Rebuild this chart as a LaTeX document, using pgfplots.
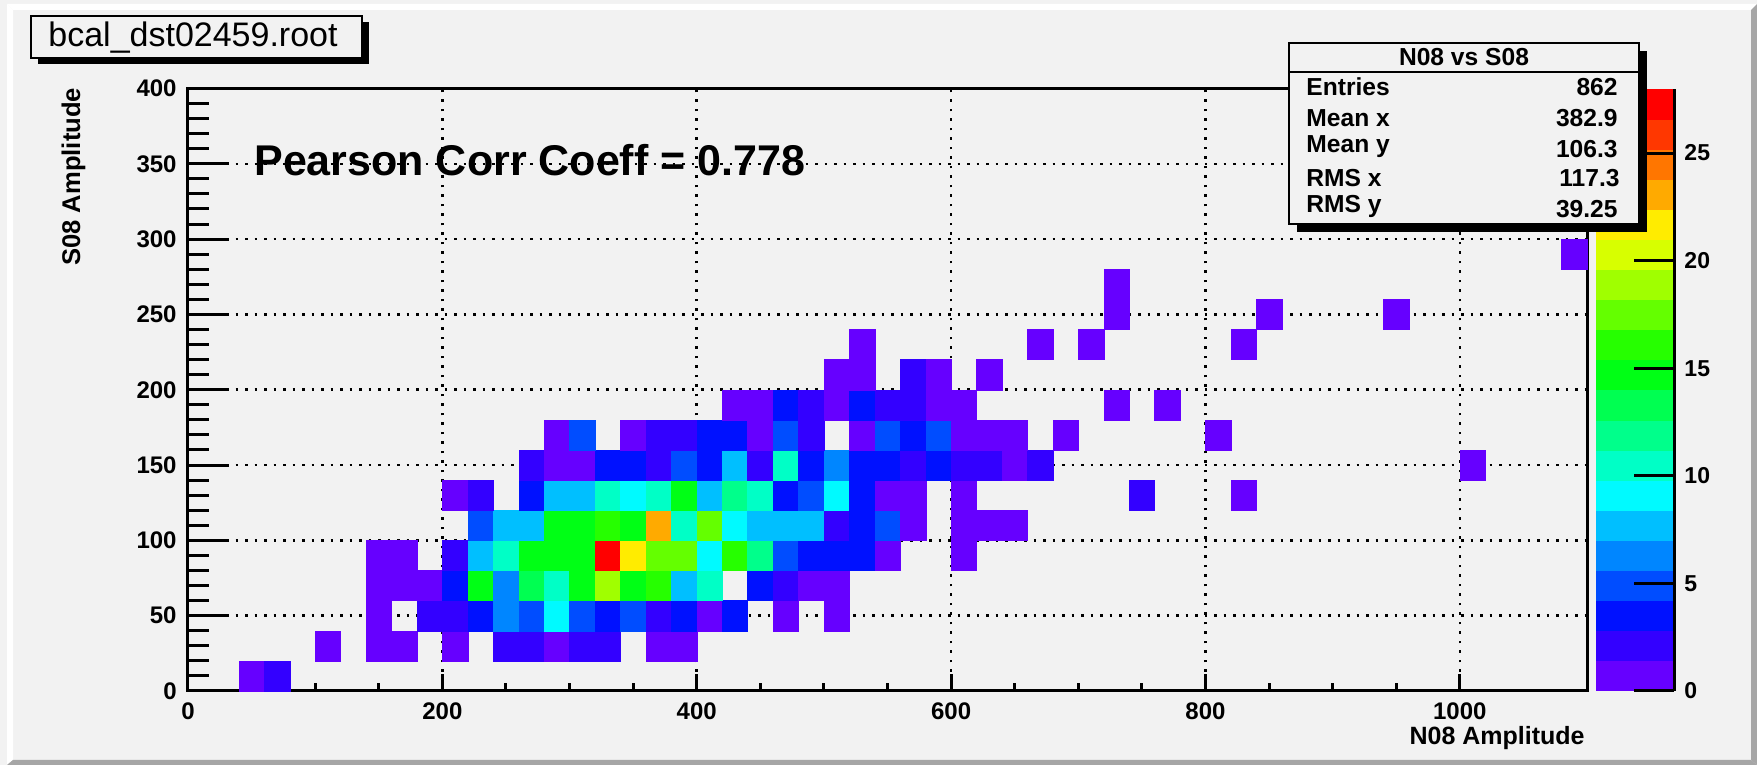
\documentclass[border=0pt]{standalone}
\usepackage{fontspec}
\setmainfont{Liberation Sans}
\usepackage{pgfplots}
\pgfplotsset{compat=1.18}
\usepackage{pgfplotstable}

\definecolor{bg}{RGB}{242,242,242}
\definecolor{bevel}{RGB}{166,166,166}

% x = bin centre, y = bin centre, c = entries
\pgfplotstableread{
x y c
50 10 1
70 10 2
110 30 1
150 30 1
170 30 1
210 30 1
250 30 2
270 30 2
290 30 1
310 30 2
330 30 2
370 30 1
390 30 1
150 50 1
190 50 2
210 50 2
230 50 3
250 50 6
270 50 5
290 50 9
310 50 5
330 50 3
350 50 5
370 50 2
390 50 3
410 50 1
430 50 3
470 50 1
510 50 1
150 70 1
170 70 1
190 70 1
210 70 3
230 70 15
250 70 6
270 70 13
290 70 11
310 70 15
330 70 19
350 70 15
370 70 16
390 70 8
410 70 11
450 70 3
470 70 2
490 70 1
510 70 1
150 90 1
170 90 1
210 90 2
230 90 8
250 90 11
270 90 15
290 90 15
310 90 15
330 90 27
350 90 22
370 90 17
390 90 17
410 90 9
430 90 16
450 90 12
470 90 5
490 90 3
510 90 3
530 90 3
550 90 1
610 90 1
230 110 5
250 110 8
270 110 8
290 110 15
310 110 15
330 110 16
350 110 15
370 110 23
390 110 11
410 110 17
430 110 9
450 110 8
470 110 8
490 110 8
510 110 2
530 110 3
550 110 5
570 110 1
610 110 1
630 110 1
650 110 1
210 130 1
230 130 2
270 130 3
290 130 8
310 130 8
330 130 11
350 130 9
370 130 11
390 130 15
410 130 8
430 130 12
450 130 11
470 130 3
490 130 5
510 130 9
530 130 3
550 130 1
570 130 1
610 130 1
750 130 2
830 130 1
270 150 2
290 150 1
310 150 1
330 150 3
350 150 3
370 150 2
390 150 5
410 150 3
430 150 8
450 150 2
470 150 11
490 150 3
510 150 6
530 150 3
550 150 3
570 150 2
590 150 3
610 150 2
630 150 2
650 150 1
670 150 2
1010 150 1
290 170 1
310 170 5
350 170 1
370 170 2
390 170 2
410 170 3
430 170 3
450 170 1
470 170 5
490 170 2
530 170 1
550 170 5
570 170 3
590 170 5
610 170 1
630 170 1
650 170 1
690 170 1
810 170 1
430 190 1
450 190 1
470 190 3
490 190 2
510 190 1
530 190 3
550 190 2
570 190 2
590 190 1
610 190 1
730 190 1
770 190 1
510 210 1
530 210 1
570 210 2
590 210 1
630 210 1
530 230 1
670 230 1
710 230 1
830 230 1
730 250 1
850 250 1
950 250 1
730 270 1
1090 290 1
}\cells

\begin{document}
\begin{tikzpicture}
\useasboundingbox (0,0) rectangle (878.5pt,382.5pt);
% ---------- canvas (pixel coordinates, y downwards) ----------
\begin{scope}[x=0.5pt,y=-0.5pt,shift={(0pt,382.5pt)}]
  \fill[bg] (0,0) rectangle (1757,765);
  \fill[white] (7,4) -- (1757,4) -- (1751,10) -- (13,10) -- cycle;
  \fill[white] (7,4) -- (13,10) -- (13,760) -- (7,765) -- cycle;
  \fill[bevel] (7,765) -- (13,760) -- (1751,760) -- (1757,765) -- cycle;
  \fill[bevel] (1757,4) -- (1757,765) -- (1751,760) -- (1751,10) -- cycle;
\end{scope}

\begin{axis}[
  at={(94pt,37pt)}, anchor=south west,
  scale only axis, width=699.5pt, height=301.25pt,
  xmin=0, xmax=1100, ymin=0, ymax=400,
  axis on top,
  axis line style={line width=1.5pt},
  xtick={0,200,...,1000}, ytick={0,50,...,400},
  minor x tick num=3, minor y tick num=4,
  tick align=inside, xtick pos=bottom, ytick pos=left,
  xtick style={line width=1.5pt, black, /pgfplots/major tick length=8.5pt, /pgfplots/minor tick length=4pt},
  ytick style={line width=1.5pt, black, /pgfplots/major tick length=20.5pt, /pgfplots/minor tick length=10.5pt},
  grid=major,
  major grid style={black, line width=1.25pt, dash pattern=on 1.25pt off 3.5pt},
  /pgf/number format/assume math mode=true,
  /pgf/number format/1000 sep={},
  scaled ticks=false,
  tick label style={font=\fontsize{12}{12}\selectfont\bfseries},
  xticklabel style={inner sep=0pt, anchor=north, yshift=-5.5pt},
  yticklabel style={inner sep=0pt, anchor=east, xshift=-5.5pt},
  colormap={rootpal}{
    rgb255=(102,0,255) rgb255=(51,0,255) rgb255=(0,17,255) rgb255=(0,77,255)
    rgb255=(0,134,255) rgb255=(0,191,255) rgb255=(0,250,255) rgb255=(0,255,198)
    rgb255=(0,255,139) rgb255=(0,255,81) rgb255=(0,255,21) rgb255=(38,255,0)
    rgb255=(100,255,0) rgb255=(160,255,0) rgb255=(215,255,0) rgb255=(255,236,0)
    rgb255=(255,170,0) rgb255=(255,118,0) rgb255=(255,55,0) rgb255=(255,0,0)},
  colormap access=piecewise constant,
  point meta min=0, point meta max=28,
  colorbar,
  colorbar style={
    at={(parent axis.south east)}, anchor=south west, xshift=-4pt,
    scale only axis, width=39pt, height=301.25pt,
    grid=none, xmajorgrids=false, ymajorgrids=false,
    hide x axis, axis y line*=right,
    axis line style={line width=1.5pt},
    ytick={0,5,...,25}, minor y tick num=0,
    ytick pos=right, yticklabel pos=right, tick align=inside,
    ytick style={line width=1.5pt, black, /pgfplots/major tick length=20pt},
    /pgf/number format/assume math mode=true,
    yticklabel style={font=\fontsize{11.5}{11.5}\selectfont\bfseries, inner sep=0pt, anchor=west, xshift=5pt,
      /pgf/number format/assume math mode=true},
  },
]
\addplot[scatter, only marks, mark=square*, mark size=6.359pt,
  scatter/use mapped color={draw=mapped color, fill=mapped color},
  mark options={yscale=1.18435, line width=0.15pt},
  point meta=explicit]
  table[x=x, y=y, meta=c] {\cells};
\end{axis}

% ---------- texts and boxes ----------
\begin{scope}[x=0.5pt,y=-0.5pt,shift={(0pt,382.5pt)}]
  % title box
  \fill[black] (38,22) rectangle (369,64);
  \filldraw[fill=bg, draw=black, line width=1pt] (31,16) rectangle (362,58);
  \node[anchor=base west, inner sep=0pt, font=\fontsize{17}{17}\selectfont] at (48,47) {bcal\_dst02459.root};
  % axis titles
  \node[anchor=base east, inner sep=0pt, rotate=90, font=\fontsize{12.8}{12.8}\selectfont\bfseries] at (80,87.5) {S08 Amplitude};
  \node[anchor=base east, inner sep=0pt, font=\fontsize{12.5}{12.5}\selectfont\bfseries] at (1585,745) {N08 Amplitude};
  % Pearson
  \node[anchor=base west, inner sep=0pt, font=\fontsize{21.5}{21.5}\selectfont\bfseries] at (254,176) {Pearson Corr Coeff = 0.778};
  % stats box
  \fill[black] (1297,51) rectangle (1647,232);
  \filldraw[fill=bg, draw=black, line width=1.3pt] (1289,43) rectangle (1639,224);
  \draw[black, line width=1pt] (1289,72) -- (1639,72);
  \begin{scope}[every node/.style={inner sep=0pt, font=\fontsize{12.3}{12.3}\selectfont\bfseries}]
    \node[anchor=base] at (1464,65.5) {N08 vs S08};
    \node[anchor=base west] at (1306,96) {Entries};
    \node[anchor=base west] at (1306,126.7) {Mean x};
    \node[anchor=base west] at (1306,152.7) {Mean y};
    \node[anchor=base west] at (1306,186.7) {RMS x};
    \node[anchor=base west] at (1306,213) {RMS y};
    \node[anchor=base east] at (1618,96) {862};
    \node[anchor=base east] at (1618,126.7) {382.9};
    \node[anchor=base east] at (1618,158) {106.3};
    \node[anchor=base east] at (1620,186.7) {117.3};
    \node[anchor=base east] at (1618,218) {39.25};
  \end{scope}
\end{scope}
\end{tikzpicture}
\end{document}
